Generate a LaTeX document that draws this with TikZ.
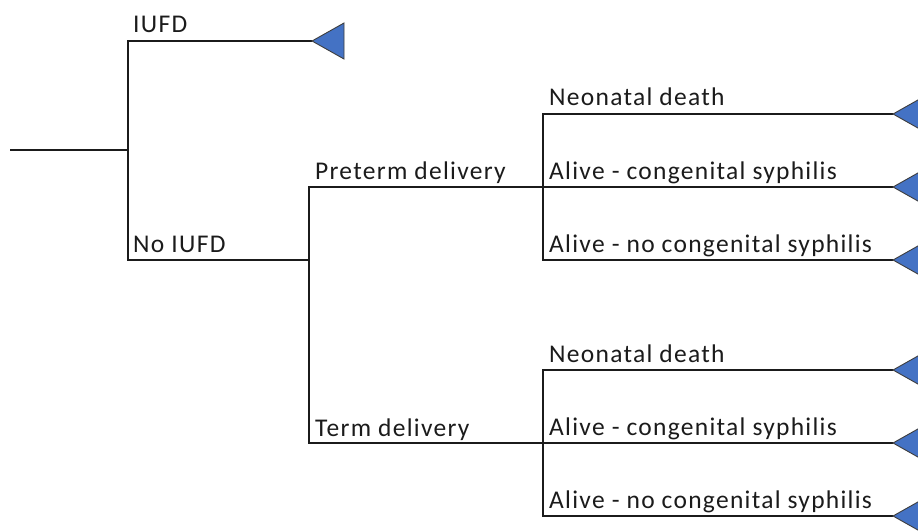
\documentclass[tikz,border=0pt]{standalone}
\usepackage{fontspec}
\setmainfont{Carlito}[LetterSpace=5]
\usetikzlibrary{positioning,calc}
\definecolor{cLeaf}{HTML}{4472C4}
\definecolor{cInk}{HTML}{1B1B1B}
\tikzset{
  br/.style={draw=cInk, line width=1.3pt},
  lbl/.style={anchor=base west, inner sep=0pt, font=\fontsize{25.5}{30}\selectfont, text=cInk},
  leaf/.style={draw=cInk!85, fill=cLeaf, line width=0.9pt, line join=miter}
}
\begin{document}
\begin{tikzpicture}[x=1pt,y=-1pt]
\useasboundingbox (0,0) rectangle (918,532);
\clip (0,0) rectangle (918,532);
% chance nodes
\coordinate (root) at (10,150);
\coordinate (c1) at (128,150);
\coordinate (c2) at (309,260);
\coordinate (c3) at (543,187);
\coordinate (c4) at (543,443);
% terminal ends
\coordinate (e0) at (312,41);
\coordinate (p1) at (893,114);
\coordinate (p2) at (893,187);
\coordinate (p3) at (893,260);
\coordinate (t1) at (893,370);
\coordinate (t2) at (893,443);
\coordinate (t3) at (893,516);
% branches
\draw[br] (root) -- (c1);
\draw[br] (c1) |- (e0);
\draw[br] (c1) |- (c2);
\draw[br] (c2) |- (c3);
\draw[br] (c2) |- (c4);
\foreach \e in {p1,p2,p3} \draw[br] (c3) |- (\e);
\foreach \e in {t1,t2,t3} \draw[br] (c4) |- (\e);
% terminal triangles
\foreach \e in {e0,p1,p2,p3,t1,t2,t3}
  \draw[leaf] (\e) -- ++(32,-18) -- ++(0,36) -- cycle;
% labels
\node[lbl] (lIufd)   at ($(c1 |- e0)+(5,-8)$) {IUFD};
\node[lbl] (lNoIufd) at ($(c1 |- c2)+(5,-8)$) {No IUFD};
\node[lbl] (lPre)    at ($(c2 |- c3)+(6,-8)$) {Preterm delivery};
\node[lbl] (lTerm)   at ($(c2 |- c4)+(6,-7)$) {Term delivery};
\node[lbl] (lPnd)    at ($(c3 |- p1)+(6,-8)$) {Neonatal death};
\node[lbl] (lPcs)    at ($(c3 |- p2)+(6,-8)$) {Alive - congenital syphilis};
\node[lbl] (lPns)    at ($(c3 |- p3)+(6,-8)$) {Alive - no congenital syphilis};
\node[lbl] (lTnd)    at ($(c4 |- t1)+(6,-8)$) {Neonatal death};
\node[lbl] (lTcs)    at ($(c4 |- t2)+(6,-8)$) {Alive - congenital syphilis};
\node[lbl] (lTns)    at ($(c4 |- t3)+(6,-8)$) {Alive - no congenital syphilis};
\end{tikzpicture}
\end{document}
